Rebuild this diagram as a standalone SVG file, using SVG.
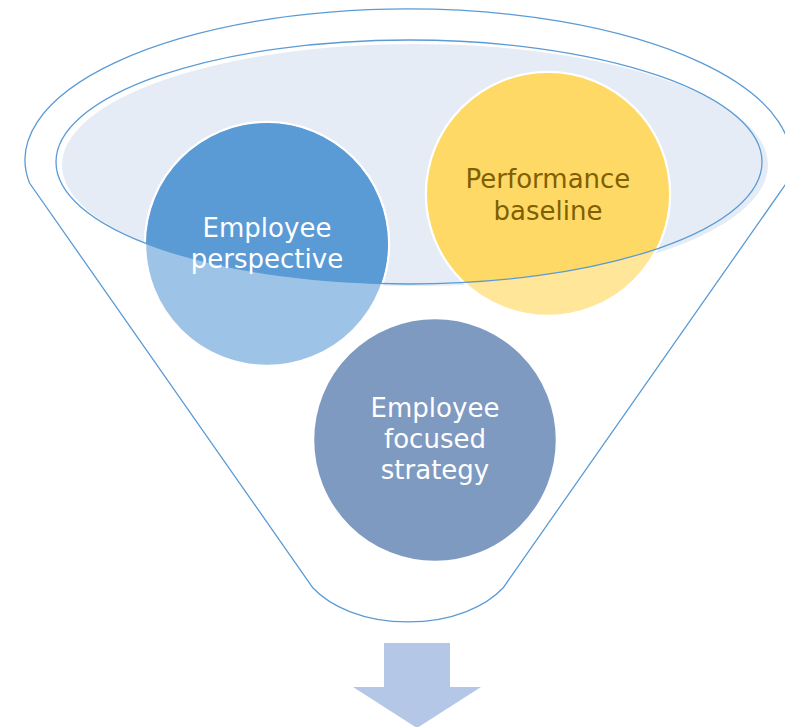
<svg xmlns="http://www.w3.org/2000/svg" width="785" height="727" viewBox="0 0 785 727">
  <style>
    .rim { fill: none; stroke: #5B9BD5; stroke-width: 1.3; }
    .ring { stroke: #FFFFFF; stroke-width: 2.5; }
    .label { font-family: "DejaVu Sans", Verdana, sans-serif; font-size: 26px; text-anchor: middle; }
    .light { fill: #FFFFFF; }
    .dark { fill: #7F6000; }
  </style>
  <defs>
    <!-- opening of the funnel: circle parts inside it are drawn at full strength -->
    <clipPath id="mouth">
      <ellipse cx="409" cy="162" rx="353" ry="122"/>
    </clipPath>
  </defs>

  <g id="funnel">
    <path class="rim" d="M 29.5 183 A 383 151 0 1 1 786.5 183 L 503 588 A 110 68.5 0 0 1 313 588 Z"/>
    <ellipse cx="415" cy="165" rx="353" ry="121" fill="#E5ECF6"/>
  </g>

  <g id="employee-perspective">
    <circle class="ring" cx="267" cy="244" r="122" fill="#9DC3E6"/>
    <circle cx="267" cy="244" r="121" fill="#5B9BD5" clip-path="url(#mouth)"/>
  </g>

  <g id="performance-baseline">
    <circle class="ring" cx="548" cy="194" r="122" fill="#FFE699"/>
    <circle cx="548" cy="194" r="121" fill="#FFD966" clip-path="url(#mouth)"/>
  </g>

  <g id="funnel-mouth-edge">
    <ellipse class="rim" cx="409" cy="162" rx="353" ry="122"/>
  </g>

  <g id="employee-perspective-text">
    <text class="label light" x="267" y="237">Employee</text>
    <text class="label light" x="267" y="268">perspective</text>
  </g>

  <g id="performance-baseline-text">
    <text class="label dark" x="548" y="188">Performance</text>
    <text class="label dark" x="548" y="220">baseline</text>
  </g>

  <g id="employee-focused-strategy">
    <circle class="ring" cx="435" cy="440" r="122" fill="#7F9AC1"/>
    <text class="label light" x="435" y="417">Employee</text>
    <text class="label light" x="435" y="448">focused</text>
    <text class="label light" x="435" y="479">strategy</text>
  </g>

  <g id="connectors">
    <polygon points="384,643 450,643 450,687 481,687 417,728 353,687 384,687" fill="#B4C7E7"/>
  </g>
</svg>
